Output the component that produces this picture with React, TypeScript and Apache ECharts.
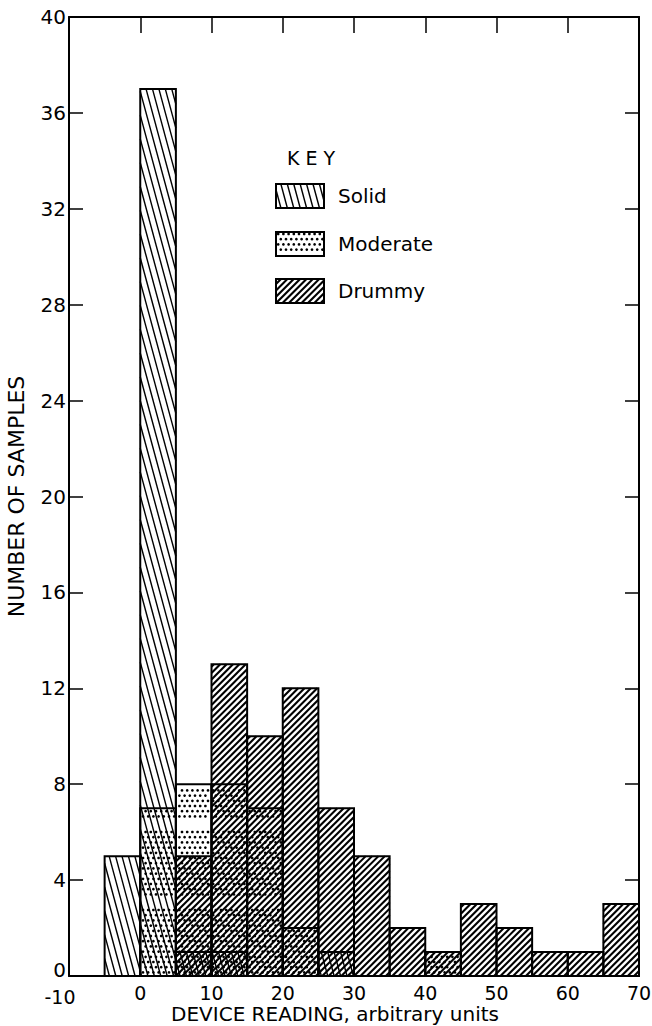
import React, { useEffect, useRef } from "react";
import * as echarts from "echarts";

// ---- data ----
const binStarts = [-5, 0, 5, 10, 15, 20, 25, 30, 35, 40, 45, 50, 55, 60, 65];
const binWidth = 5;
const solidCounts = [5, 37, 1, 1, 0, 0, 1, 0, 0, 0, 0, 0, 0, 0, 0];
const moderateCounts = [0, 7, 8, 8, 7, 2, 0, 0, 0, 1, 0, 0, 0, 0, 0];
const drummyCounts = [0, 0, 5, 13, 10, 12, 7, 5, 2, 1, 3, 2, 1, 1, 3];
const seriesNames = ["Solid", "Moderate", "Drummy"];
const xMin = -10;
const xMax = 70;
const xStep = 10;
const yMin = 0;
const yMax = 40;
const yStep = 4;

const FONT = "DejaVu Sans";

type Pat = "solid" | "moderate" | "drummy";

function hatchLines(L: number, T: number, R: number, B: number, dx: number, dy: number, spacing: number, lw: number) {
  const len = Math.hypot(dx, dy);
  const ux = dx / len, uy = dy / len;
  const nx = -uy, ny = ux;
  const cs = [L * nx + T * ny, R * nx + T * ny, L * nx + B * ny, R * nx + B * ny];
  const cmin = Math.min(...cs), cmax = Math.max(...cs);
  const out: any[] = [];
  for (let c = Math.ceil(cmin / spacing) * spacing; c <= cmax; c += spacing) {
    const px = nx * c, py = ny * c;
    let t0 = -Infinity, t1 = Infinity;
    if (Math.abs(ux) > 1e-9) {
      let a = (L - px) / ux, b = (R - px) / ux;
      if (a > b) [a, b] = [b, a];
      t0 = Math.max(t0, a); t1 = Math.min(t1, b);
    } else if (px < L || px > R) continue;
    if (Math.abs(uy) > 1e-9) {
      let a = (T - py) / uy, b = (B - py) / uy;
      if (a > b) [a, b] = [b, a];
      t0 = Math.max(t0, a); t1 = Math.min(t1, b);
    } else if (py < T || py > B) continue;
    if (t1 - t0 > 0.5) {
      out.push({
        type: "line",
        silent: true,
        shape: { x1: px + ux * t0, y1: py + uy * t0, x2: px + ux * t1, y2: py + uy * t1 },
        style: { stroke: "#000", lineWidth: lw },
      });
    }
  }
  return out;
}

function dotFill(L: number, T: number, R: number, B: number, sp: number, r: number) {
  const out: any[] = [];
  const j0 = Math.ceil(T / sp), j1 = Math.floor(B / sp);
  for (let j = j0; j <= j1; j++) {
    const y = j * sp;
    if (y < T + r || y > B - r) continue;
    const off = (Math.abs(j) % 2) * sp / 2;
    const i0 = Math.ceil((L - off) / sp), i1 = Math.floor((R - off) / sp);
    for (let i = i0; i <= i1; i++) {
      const x = i * sp + off;
      if (x < L + r || x > R - r) continue;
      out.push({ type: "circle", silent: true, shape: { cx: x, cy: y, r }, style: { fill: "#000" } });
    }
  }
  return out;
}

function patternFill(p: Pat, L: number, T: number, R: number, B: number) {
  if (p === "solid") return hatchLines(L, T, R, B, 0.27, 1, 6.2, 1.4);
  if (p === "drummy") return hatchLines(L, T, R, B, 1, -1, 4.5, 2.1);
  return dotFill(L, T, R, B, 5.2, 1.35);
}

function makeSeries(name: string, counts: number[], pat: Pat) {
  const data = binStarts
    .map((s, i) => [s, s + binWidth, counts[i]])
    .filter((d) => d[2] > 0);
  return {
    type: "custom",
    name,
    xAxisIndex: 0,
    yAxisIndex: 0,
    encode: { x: [0, 1], y: 2 },
    data,
    renderItem: (params: any, api: any) => {
      const p0 = api.coord([api.value(0), 0]);
      const p1 = api.coord([api.value(1), api.value(2)]);
      const L = p0[0], R = p1[0], T = p1[1], B = p0[1];
      const children: any[] = patternFill(pat, L, T, R, B);
      children.push({
        type: "rect",
        shape: { x: L, y: T, width: R - L, height: B - T },
        style: { fill: "none", stroke: "#000", lineWidth: 2 },
      });
      return { type: "group", children };
    },
  };
}

function legendGraphic() {
  const pats: Pat[] = ["solid", "moderate", "drummy"];
  const tops = [184, 232, 279];
  const children: any[] = [
    {
      type: "text",
      x: 287,
      y: 158,
      style: { text: "K E Y", font: `19px ${FONT}`, fill: "#000", textVerticalAlign: "middle" },
    },
  ];
  pats.forEach((p, i) => {
    const L = 276, T = tops[i], R = 324, B = tops[i] + 24;
    children.push(...patternFill(p, L, T, R, B));
    children.push({
      type: "rect",
      shape: { x: L, y: T, width: R - L, height: B - T },
      style: { fill: "none", stroke: "#000", lineWidth: 2 },
    });
    children.push({
      type: "text",
      x: 338,
      y: T + 12,
      style: { text: seriesNames[i], font: `20px ${FONT}`, fill: "#000", textVerticalAlign: "middle" },
    });
  });
  return [{ type: "group", children }];
}

export default function App() {
  const ref = useRef<HTMLDivElement>(null);
  useEffect(() => {
    if (!ref.current) return;
    const chart = echarts.init(ref.current, undefined, { renderer: "svg" });
    const axisLine = { show: true, onZero: false, lineStyle: { color: "#000", width: 2 } };
    chart.setOption({
      animation: false,
      backgroundColor: "#fff",
      grid: { left: 69, right: 13, top: 17, bottom: 50, containLabel: false, outerBoundsMode: "none" },
      xAxis: [
        {
          type: "value",
          position: "bottom",
          min: xMin,
          max: xMax,
          interval: xStep,
          axisLine,
          axisTick: { show: false },
          splitLine: { show: false },
          axisLabel: {
            color: "#000",
            fontSize: 19,
            fontFamily: FONT,
            margin: 7,
            formatter: (v: number) => (v === xMin ? "{m|" + v + "}" : String(v)),
            rich: { m: { fontSize: 19, fontFamily: FONT, color: "#000", padding: [4, 18, 0, 0] } },
          },
          name: "DEVICE READING, arbitrary units",
          nameLocation: "middle",
          nameGap: 28,
          nameMoveOverlap: false,
          nameTextStyle: { color: "#000", fontSize: 20, fontFamily: FONT, padding: [0, 38, 0, 0] },
        },
        {
          type: "value",
          position: "top",
          min: xMin,
          max: xMax,
          interval: xStep,
          axisLine,
          axisTick: { show: true, inside: true, length: 16, lineStyle: { color: "#000", width: 1.5 } },
          splitLine: { show: false },
          axisLabel: { show: false },
        },
      ],
      yAxis: [
        {
          type: "value",
          position: "left",
          min: yMin,
          max: yMax,
          interval: yStep,
          axisLine,
          axisTick: { show: true, inside: true, length: 14, lineStyle: { color: "#000", width: 1.5 } },
          splitLine: { show: false },
          axisLabel: {
            color: "#000",
            fontSize: 20,
            fontFamily: FONT,
            margin: 3,
            formatter: (v: number) => (v === yMin ? "{z|" + v + "}" : String(v)),
            rich: { z: { fontSize: 20, fontFamily: FONT, color: "#000", padding: [0, 0, 12, 0] } },
          },
          name: "NUMBER OF SAMPLES",
          nameLocation: "middle",
          nameGap: 42,
          nameMoveOverlap: false,
          nameTextStyle: { color: "#000", fontSize: 22, fontFamily: FONT },
        },
        {
          type: "value",
          position: "right",
          min: yMin,
          max: yMax,
          interval: yStep,
          axisLine,
          axisTick: { show: true, inside: true, length: 14, lineStyle: { color: "#000", width: 1.5 } },
          splitLine: { show: false },
          axisLabel: { show: false },
        },
      ],
      series: [
        makeSeries(seriesNames[2], drummyCounts, "drummy"),
        makeSeries(seriesNames[1], moderateCounts, "moderate"),
        makeSeries(seriesNames[0], solidCounts, "solid"),
      ],
      graphic: legendGraphic(),
    });
    return () => chart.dispose();
  }, []);
  return (
    <div
      ref={ref}
      style={{ position: "fixed", left: 0, top: 0, width: 652, height: 1026, background: "#fff" }}
    />
  );
}
